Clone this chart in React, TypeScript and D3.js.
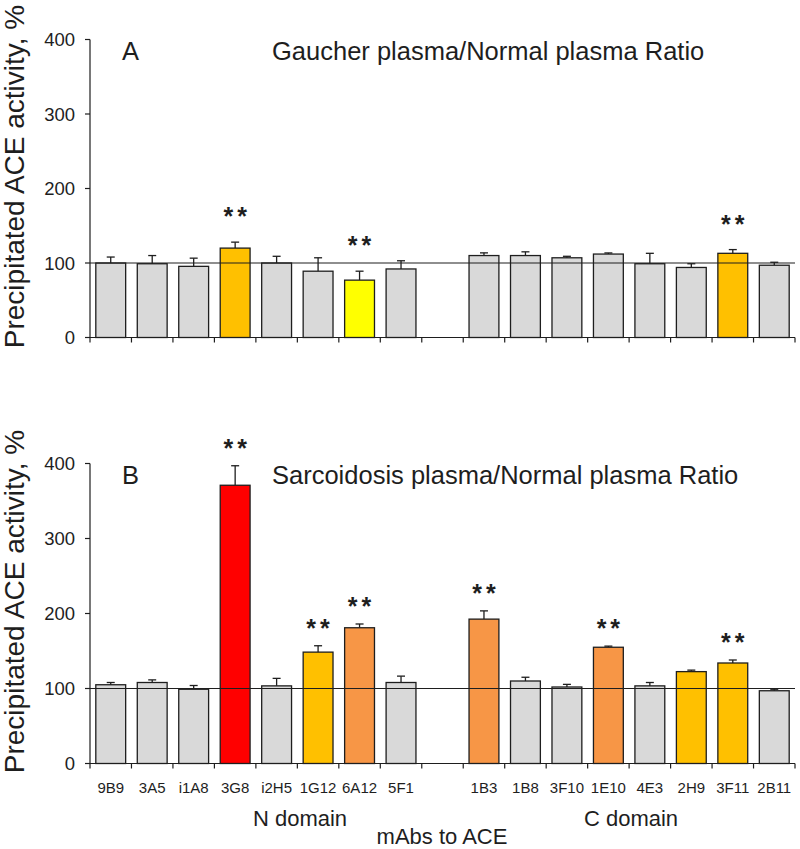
import React from 'react';
import * as d3 from 'd3';

const nDomain = ['9B9', '3A5', 'i1A8', '3G8', 'i2H5', '1G12', '6A12', '5F1'];
const cDomain = ['1B3', '1B8', '3F10', '1E10', '4E3', '2H9', '3F11', '2B11'];
const mAbs = [...nDomain, ...cDomain];
const slots = [...nDomain, 'gap', ...cDomain];
const yTicks = [0, 100, 200, 300, 400];

const gaucherValues = [100, 99, 95.5, 120, 100, 89, 77, 92, 110, 110, 107, 112, 99, 94, 113, 97];
const gaucherErrors = [8, 11, 11, 8, 9, 18, 12, 11, 3.6, 5, 2, 1.5, 14, 5, 5, 4];
const gaucherGroups = ['n', 'n', 'n', 'o', 'n', 'n', 'y', 'n', 'n', 'n', 'n', 'n', 'n', 'n', 'o', 'n'];
const gaucherStars = ['3G8', '6A12', '3F11'];

const sarcoidValues = [105, 108, 99, 371, 103.5, 148.5, 181, 108, 192.5, 110, 102, 155, 103.5, 122.5, 134, 97];
const sarcoidErrors = [3, 3.5, 5, 26, 10, 8.5, 5, 8.5, 11, 5, 3.5, 1.5, 4.5, 2, 4, 2];
const sarcoidGroups = ['n', 'n', 'n', 'r', 'n', 'o', 'l', 'n', 'l', 'n', 'n', 'l', 'n', 'o', 'o', 'n'];
const sarcoidStars = ['3G8', '1G12', '6A12', '1B3', '1E10', '3F11'];

const fills: Record<string, string> = {
  n: '#d9d9d9',
  o: '#ffc000',
  y: '#ffff00',
  r: '#ff0000',
  l: '#f79646',
};

const FONT = '"Liberation Sans", Arial, sans-serif';
const INK = '#1e1e1e';
const STAR = 25;

const x = d3.scaleBand<string>().domain(slots).range([90, 795]).paddingInner(0.28).paddingOuter(0.14);

type PanelProps = {
  letter: string;
  title: string;
  values: number[];
  errors: number[];
  groups: string[];
  stars: string[];
  top: number;
  bottom: number;
  starGap: number;
};

const Panel = ({ letter, title, values, errors, groups, stars, top, bottom, starGap }: PanelProps) => {
  const y = d3.scaleLinear().domain([0, 400]).range([bottom, top]);
  const step = x.step();
  const bw = x.bandwidth();
  const boundaries = d3.range(slots.length + 1).map(i => 90 + i * step);
  const cy = (top + bottom) / 2 - 12;

  return (
    <g>
      {/* bars */}
      {mAbs.map((m, i) => (
        <g key={m}>
          <line
            x1={x(m)! + bw / 2} x2={x(m)! + bw / 2}
            y1={y(values[i])} y2={y(values[i] + errors[i])}
            stroke={INK} strokeWidth={1.3}
          />
          <line
            x1={x(m)! + bw / 2 - 4} x2={x(m)! + bw / 2 + 4}
            y1={y(values[i] + errors[i])} y2={y(values[i] + errors[i])}
            stroke={INK} strokeWidth={1.3}
          />
          <rect
            x={x(m)} y={y(values[i])} width={bw} height={y(0) - y(values[i])}
            fill={fills[groups[i]]} stroke={INK} strokeWidth={1.3}
          />
          {stars.includes(m) && (
            <text
              x={x(m)! + bw / 2 + 2} y={y(values[i] + errors[i]) - starGap + 0.57 * STAR}
              textAnchor="middle" fontSize={STAR} fontWeight="bold" letterSpacing={4}
              fontFamily={FONT} fill={INK}
            >**</text>
          )}
        </g>
      ))}

      {/* reference line at 100% */}
      <line x1={90} x2={795} y1={y(100)} y2={y(100)} stroke={INK} strokeWidth={1.2} />

      {/* y axis */}
      <line x1={90} x2={90} y1={y(0)} y2={y(400)} stroke={INK} strokeWidth={1.2} />
      {yTicks.map(t => (
        <g key={t}>
          <line x1={85} x2={90} y1={y(t)} y2={y(t)} stroke={INK} strokeWidth={1.2} />
          <text x={75} y={y(t)} dy="0.36em" textAnchor="end" fontSize={18.5} fontFamily={FONT} fill={INK}>{t}</text>
        </g>
      ))}

      {/* x axis */}
      <line x1={90} x2={795} y1={y(0)} y2={y(0)} stroke={INK} strokeWidth={1.2} />
      {boundaries.map((b, i) => (
        <line key={i} x1={b} x2={b} y1={y(0)} y2={y(0) + 5} stroke={INK} strokeWidth={1.2} />
      ))}

      <text
        transform={`translate(23.5,${cy}) rotate(-90)`}
        textAnchor="middle" fontSize={28} fontFamily={FONT} fill={INK}
      >Precipitated ACE activity, %</text>

      <text x={122} y={top + 20} fontSize={25.5} fontFamily={FONT} fill={INK}>{letter}</text>
      <text x={272} y={top + 20.5} fontSize={25.5} fontFamily={FONT} fill={INK}>{title}</text>
    </g>
  );
};

export default function App() {
  return (
    <svg
      width={800} height={849}
      style={{ position: 'absolute', left: 0, top: 0, background: '#fff' }}
    >
      <Panel
        letter="A" title="Gaucher plasma/Normal plasma Ratio"
        values={gaucherValues} errors={gaucherErrors} groups={gaucherGroups} stars={gaucherStars}
        top={39.5} bottom={337.5} starGap={31}
      />
      <Panel
        letter="B" title="Sarcoidosis plasma/Normal plasma Ratio"
        values={sarcoidValues} errors={sarcoidErrors} groups={sarcoidGroups} stars={sarcoidStars}
        top={463.5} bottom={763.5} starGap={23}
      />
      {mAbs.map(m => (
        <text
          key={m} x={x(m)! + x.bandwidth() / 2} y={793}
          textAnchor="middle" fontSize={15} fontFamily={FONT} fill={INK}
        >{m}</text>
      ))}
      <text x={300} y={826} textAnchor="middle" fontSize={22} fontFamily={FONT} fill={INK}>N domain</text>
      <text x={631} y={826} textAnchor="middle" fontSize={22} fontFamily={FONT} fill={INK}>C domain</text>
      <text x={442} y={844} textAnchor="middle" fontSize={22} fontFamily={FONT} fill={INK}>mAbs to ACE</text>
    </svg>
  );
}
